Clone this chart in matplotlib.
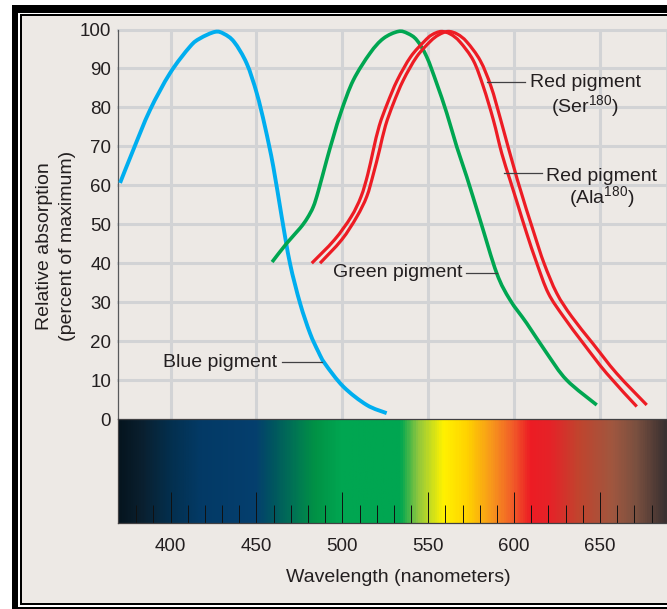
import matplotlib
matplotlib.use("Agg")
import matplotlib.pyplot as plt
import numpy as np
from matplotlib.colors import LinearSegmentedColormap
from matplotlib.patches import Rectangle, PathPatch
from matplotlib.path import Path

# Fonts: Arial-like text, superscripts through mathtext
plt.rcParams['font.family'] = ['Liberation Sans', 'DejaVu Sans']
plt.rcParams['mathtext.fontset'] = 'custom'
plt.rcParams['mathtext.rm'] = 'Liberation Sans'

# Absorption curves (wavelength nm, percent of maximum)
blue_nm = [370.6, 378.3, 388.0, 399.7, 411.3, 417.1, 425.9, 431.0, 437.0, 444.3, 450.2, 455.0,
           459.8, 464.7, 469.5, 475.4, 481.2, 486.0, 489.9, 500.6, 514.2, 525.8]
blue_abs = [60.6, 69.1, 79.3, 88.8, 95.6, 97.7, 99.4, 98.9, 96.8, 91.3, 83.6, 75.0,
            64.8, 51.9, 40.0, 29.7, 22.0, 17.3, 14.2, 8.3, 3.6, 1.5]

green_nm = [459.1, 467.6, 475.4, 479.5, 483.1, 486.0, 490.9, 494.8, 499.6, 506.4, 516.1, 523.9,
            532.6, 538.0, 543.3, 549.1, 554.9, 560.8, 566.6, 572.4, 580.2, 589.9, 597.6, 607.3,
            619.0, 630.6, 648.1]
green_abs = [40.3, 45.1, 49.0, 51.5, 54.5, 58.5, 66.5, 72.5, 79.3, 87.0, 93.9, 97.7,
             99.5, 99.0, 97.3, 93.0, 86.2, 78.5, 69.9, 62.2, 51.1, 37.4, 30.6, 24.6,
             16.9, 10.0, 3.6]

ala_nm = [482.2, 495.4, 505.1, 510.9, 514.8, 518.0, 521.5, 526.2, 532.0, 539.8, 547.6, 552.0,
          557.5, 563.0, 568.5, 576.3, 582.1, 587.9, 592.8, 597.6, 602.5, 607.3, 613.2, 619.9,
          628.7, 640.3, 653.9, 671.4]
ala_abs = [40.0, 46.0, 51.9, 57.1, 62.8, 69.0, 75.3, 81.0, 87.0, 93.0, 96.9, 98.6,
           99.5, 98.8, 96.8, 92.0, 85.3, 76.8, 68.2, 61.4, 54.5, 47.7, 40.0, 32.3,
           26.3, 19.4, 11.7, 3.2]

ser_nm = [487.0, 499.6, 508.4, 514.2, 518.0, 521.6, 525.1, 529.7, 535.5, 543.3, 551.1, 556.0,
          561.5, 567.0, 572.5, 580.3, 586.6, 592.2, 601.9, 611.6, 617.4, 624.8, 633.5, 645.8,
          659.7, 677.2]
ser_abs = [40.0, 46.0, 51.9, 57.1, 62.8, 69.0, 75.3, 81.0, 87.0, 93.0, 96.9, 98.6,
           99.5, 98.8, 96.8, 92.0, 85.3, 76.8, 61.4, 47.7, 40.0, 32.3, 26.3, 19.4,
           11.7, 3.6]

# Visible spectrum strip colour stops
spec_nm = [369, 382, 400, 417, 449, 459, 474, 484, 499, 534, 544, 559, 573, 588, 600, 610,
           622, 638, 658, 672, 689]
spec_colors = ['#05141E', '#0A1F2E', '#03304F', '#033A66', '#053F6E', '#005560', '#007A52',
               '#009245', '#00A651', '#00A651', '#8DC63F', '#FFF200', '#FFD200', '#F7941D',
               '#F15A29', '#ED1C24', '#E52328', '#C1442E', '#A0573F', '#7A5040', '#3A3030']

x_ticks = [400, 450, 500, 550, 600, 650]
y_ticks = [0, 10, 20, 30, 40, 50, 60, 70, 80, 90, 100]

BG = '#EDE9E5'
GRID = '#D2D3D5'
TXT = '#231F20'
W, H = 667, 609
XMIN, XMAX = 369.4, 689.0


def fx(px):
    return px / W


def fy(py):
    return 1 - py / H


def smooth_curve(ax, xs, ys, **kw):
    # draw a smooth (Catmull-Rom as Bezier) line through the read points
    p = np.column_stack([xs, ys]).astype(float)
    pts = [p[0]]
    codes = [Path.MOVETO]
    n = len(p)
    for i in range(n - 1):
        p0 = p[i - 1] if i > 0 else p[i]
        p1, p2 = p[i], p[i + 1]
        p3 = p[i + 2] if i + 2 < n else p[i + 1]
        pts += [p1 + (p2 - p0) / 6, p2 - (p3 - p1) / 6, p2]
        codes += [Path.CURVE4] * 3
    ax.add_patch(PathPatch(Path(pts, codes), fill=False, capstyle='butt', joinstyle='round', **kw))


fig = plt.figure(figsize=(W / 100, H / 100), dpi=100)
fig.patch.set_facecolor('white')

# double black frame round the panel
frame = [(12, 5, 609, 'black'), (17.5, 12.5, 607, 'white'), (19.5, 14.3, 605, 'black'), (22, 16, 603, BG)]
for (x0, y0, y1, c) in frame:
    fig.add_artist(Rectangle((fx(x0), fy(y1)), 1.2, (y1 - y0) / H,
                             transform=fig.transFigure, facecolor=c, edgecolor='none', zorder=0))

# main chart
ax = fig.add_axes([fx(118), fy(419), 1 - fx(118), (419 - 29.5) / H])
ax.set_facecolor('none')
ax.set_xlim(XMIN, XMAX)
ax.set_ylim(0, 100)
for v in x_ticks:
    ax.axvline(v, color=GRID, lw=2.2, zorder=1)
for v in y_ticks[1:]:
    ax.axhline(v, color=GRID, lw=2.2, zorder=1, clip_on=False)
ax.set_xticks([])
ax.set_yticks(y_ticks)
ax.tick_params(axis='y', length=0, pad=5, labelsize=13.5, labelcolor=TXT)
for s in ['top', 'bottom']:
    ax.spines[s].set_visible(False)
ax.spines['left'].set_color('#58595B')
ax.spines['left'].set_linewidth(0.9)
ax.spines['right'].set_color(GRID)
ax.spines['right'].set_linewidth(2)

smooth_curve(ax, blue_nm, blue_abs, edgecolor='#00AEEF', lw=2.8, zorder=3, clip_on=False)
smooth_curve(ax, green_nm, green_abs, edgecolor='#00A651', lw=2.6, zorder=3, clip_on=False)
smooth_curve(ax, ala_nm, ala_abs, edgecolor='#ED1C24', lw=2.3, zorder=4, clip_on=False)
smooth_curve(ax, ser_nm, ser_abs, edgecolor='#ED1C24', lw=2.3, zorder=4, clip_on=False)

# labels with leader lines
lead = dict(color='#414042', lw=0.9, zorder=5)
tk = dict(fontsize=14, color=TXT, zorder=6)
ax.plot([464.9, 488.0], [14.6, 14.6], **lead)
ax.text(462.0, 14.6, 'Blue pigment', ha='right', va='center', **tk)
ax.plot([572.0, 590.0], [37.5, 37.5], **lead)
ax.text(569.7, 37.5, 'Green pigment', ha='right', va='center', **tk)
ax.plot([584.5, 606.4], [86.5, 86.5], **lead)
ax.text(641.3, 86.3, 'Red pigment', ha='center', va='center', **tk)
ax.text(641.3, 80.2, r'(Ser$^{\mathregular{180}}$)', ha='center', va='center', **tk)
ax.plot([594.0, 616.2], [63.2, 63.2], **lead)
ax.text(650.8, 62.2, 'Red pigment', ha='center', va='center', **tk)
ax.text(650.8, 56.8, r'(Ala$^{\mathregular{180}}$)', ha='center', va='center', **tk)

# spectrum strip with wavelength ticks
sx = fig.add_axes([fx(118), fy(523), 1 - fx(118), (523 - 419) / H])
cmap = LinearSegmentedColormap.from_list(
    'spec', [((n - spec_nm[0]) / (spec_nm[-1] - spec_nm[0]), c) for n, c in zip(spec_nm, spec_colors)])
grad = np.linspace(spec_nm[0], spec_nm[-1], 600)[None, :]
sx.imshow(grad, cmap=cmap, aspect='auto', extent=[spec_nm[0], spec_nm[-1], 0, 1],
          vmin=spec_nm[0], vmax=spec_nm[-1])
sx.set_xlim(XMIN, XMAX)
sx.set_ylim(0, 1)
sx.set_yticks([])
sx.set_xticks(x_ticks)
sx.set_xticks([v for v in range(380, 690, 10) if v % 50], minor=True)
sx.tick_params(axis='x', which='major', direction='in', length=22.5, width=0.7, color='#111111',
               pad=11, labelsize=13.5, labelcolor=TXT)
sx.tick_params(axis='x', which='minor', direction='in', length=13, width=0.7, color='#111111')
for s in sx.spines.values():
    s.set_color('#414042')
    s.set_linewidth(0.9)
sx.spines['right'].set_visible(False)

fig.text(fx(398), fy(578), 'Wavelength (nanometers)', ha='center', va='center', fontsize=14, color=TXT)
fig.text(fx(45), fy(246.5), 'Relative absorption', rotation=90, ha='center', va='center',
         fontsize=14, color=TXT)
fig.text(fx(67), fy(246), '(percent of maximum)', rotation=90, ha='center', va='center',
         fontsize=14, color=TXT)

fig.savefig('out.png', dpi=100, facecolor='white')
